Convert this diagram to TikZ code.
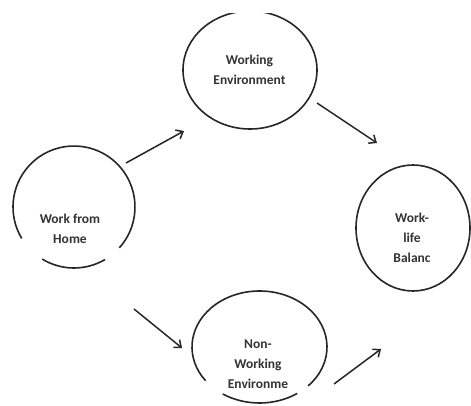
\documentclass[tikz,border=0pt]{standalone}
\usepackage{fontspec}
\setmainfont{Carlito}
\usetikzlibrary{arrows.meta}
\begin{document}
\begin{tikzpicture}[x=1pt,y=1pt,
  ring/.style={line width=1.6pt, draw=black!85},
  arr/.style={line width=1.5pt, draw=black!85, -{Straight Barb[length=6pt,width=10pt,line width=1.5pt]}},
  lbl/.style={align=center, text=black!80, font=\bfseries\fontsize{13.5}{20}\selectfont, inner sep=0pt}]
\useasboundingbox (0,0) rectangle (471,405);
\fill[white] (0,0) rectangle (471,405);
% Work from Home
\node[lbl] (wfh) at (70,176) {Work from\\Home};
\draw[ring] (74,198) ++(-42:61) arc[start angle=-42, end angle=211, radius=61];
\draw[ring] (74,198) ++(238.6:61) arc[start angle=238.6, end angle=300.6, radius=61];
% Working Environment
\node[lbl] (we) at (249.5,335) {Working\\Environment};
\begin{scope}
\clip (0,0) rectangle (471,391);
\draw[ring] (250,335) ellipse[x radius=67, y radius=59];
\end{scope}
% Work-life Balance
\node[lbl] (wlb) at (412,167) {Work-\\life\\Balanc};
\draw[ring] (413,177) ellipse[x radius=57, y radius=63];
% Non-Working Environment
\node[lbl] (nw) at (258,41) {Non-\\Working\\Environme};
\draw[ring] (259.5,58) ++(316:67.5 and 56) arc[start angle=316, end angle=577, x radius=67.5, y radius=56];
\draw[ring] (259.5,58) ++(237:67.5 and 56) arc[start angle=237, end angle=304, x radius=67.5, y radius=56];
% arrow end points
\coordinate (a1s) at (126,242); \coordinate (a1e) at (184,274);
\coordinate (a2s) at (317,302); \coordinate (a2e) at (377,262);
\coordinate (a3s) at (134,96);  \coordinate (a3e) at (182,57);
\coordinate (a4s) at (334,21);  \coordinate (a4e) at (381,56);
\draw[arr] (a1s) -- (a1e);
\draw[arr] (a2s) -- (a2e);
\draw[arr] (a3s) -- (a3e);
\draw[arr] (a4s) -- (a4e);
\end{tikzpicture}
\end{document}
